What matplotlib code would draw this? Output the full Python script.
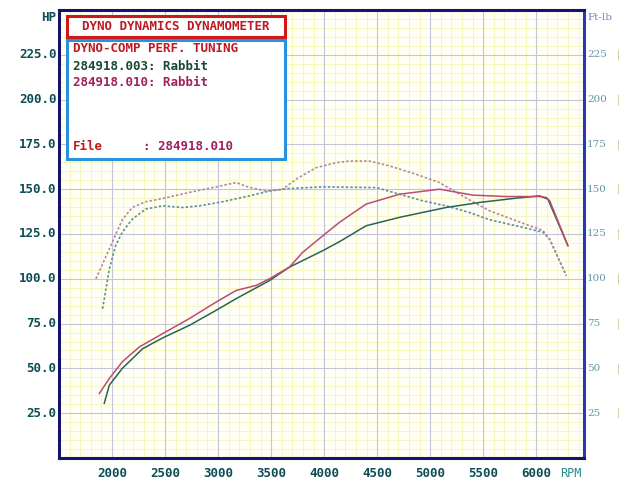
import numpy as np
import matplotlib.pyplot as plt
from matplotlib.patches import Rectangle

# run 284918.003 (green) and 284918.010 (magenta)
rpm_p003 = [1927, 1975, 2097, 2289, 2477, 2729, 2981, 3170, 3484, 3672, 3987, 4144,
            4396, 4711, 5151, 5465, 5780, 6031, 6110, 6298]
hp_003 = [30.6, 40.7, 50.0, 61.0, 67.0, 74.0, 82.4, 88.9, 99.0, 106.5, 115.7, 120.7,
          129.6, 134.3, 139.8, 142.6, 144.8, 146.3, 144.4, 118.5]

rpm_p010 = [1880, 1975, 2097, 2258, 2477, 2729, 2981, 3170, 3358, 3484, 3672, 3798,
            3987, 4144, 4396, 4711, 5088, 5402, 5717, 6031, 6094, 6127, 6298]
hp_010 = [36.0, 44.4, 53.7, 62.0, 69.4, 77.8, 87.0, 93.5, 96.3, 100.0, 106.5, 114.8,
          124.0, 131.5, 141.7, 147.2, 150.0, 146.7, 145.9, 145.9, 145.4, 143.5, 118.5]

rpm_t003 = [1911, 1975, 2034, 2097, 2191, 2317, 2477, 2666, 2823, 3043, 3295, 3484,
            3672, 3987, 4490, 4711, 4931, 5151, 5370, 5558, 5873, 6062, 6127, 6283]
tq_003 = [83.3, 105.6, 118.5, 126.0, 133.3, 138.9, 140.7, 139.8, 140.7, 143.0, 146.3, 149.0,
          150.4, 151.3, 150.9, 147.2, 143.5, 140.7, 137.0, 133.0, 128.7, 126.0, 122.0, 101.8]

rpm_t010 = [1848, 1975, 2097, 2191, 2317, 2477, 2729, 2981, 3170, 3295, 3453, 3610,
            3735, 3924, 4113, 4239, 4428, 4616, 4868, 5087, 5370, 5558, 5873, 6062,
            6127, 6283]
tq_010 = [100.0, 116.7, 133.0, 139.8, 143.0, 144.8, 148.2, 151.3, 153.7, 151.0, 149.0, 150.0,
          155.6, 162.0, 164.8, 165.7, 165.7, 163.0, 158.3, 153.7, 144.0, 138.0, 131.0, 127.0,
          122.0, 101.8]

x_ticks = [2000, 2500, 3000, 3500, 4000, 4500, 5000, 5500, 6000]
y_ticks = [25, 50, 75, 100, 125, 150, 175, 200, 225]

W, H = 643, 482
mono = 'DejaVu Sans Mono'
teal = '#0d4d55'

fig = plt.figure(figsize=(W / 100, H / 100), dpi=100)
fig.patch.set_facecolor('white')

def fx(px):
    return px / W

def fy(py):
    return 1 - py / H

ax = fig.add_axes([fx(59), fy(458), fx(584) - fx(59), fy(10) - fy(458)])
ax.set_facecolor('#fffff6')
ax.set_xlim(1500, 6450)
ax.set_ylim(0, 250)

# grid: pale yellow minor, grey-blue major
for x in np.arange(1600, 6450, 100):
    ax.axvline(x, color='#f6f6be', lw=0.7, zorder=0)
for y in np.arange(5, 250, 5):
    ax.axhline(y, color='#f6f6be', lw=0.7, zorder=0)
for x in x_ticks:
    ax.axvline(x, color='#c2c6d8', lw=0.8, zorder=1)
for y in y_ticks:
    ax.axhline(y, color='#c2c6d8', lw=0.8, zorder=1)

ax.plot(rpm_t003, tq_003, color='#5f9098', lw=1.2, ls=(0, (1.5, 1.2)), zorder=3)
ax.plot(rpm_t010, tq_010, color='#b088a8', lw=1.2, ls=(0, (1.5, 1.2)), zorder=3)
ax.plot(rpm_p003, hp_003, color='#2a6450', lw=1.1, zorder=4)
ax.plot(rpm_p010, hp_010, color='#bc4a7c', lw=1.1, zorder=4)

ax.set_xticks([])
ax.set_yticks([])
for side in ['left', 'top', 'bottom']:
    ax.spines[side].set_color('#14146a')
    ax.spines[side].set_linewidth(2.2)
ax.spines['right'].set_color('#2838b8')
ax.spines['right'].set_linewidth(2.2)

# axis labels drawn as text, like the dyno printout
for x in x_ticks:
    ax.text(x, -5, str(x), ha='center', va='top', fontsize=9, family=mono,
            fontweight='bold', color=teal, clip_on=False)
ax.text(6330, -5, 'RPM', ha='center', va='top', fontsize=8.5, family=mono,
        color='#2a8a8a', clip_on=False)

for y in y_ticks:
    ax.text(1475, y, '%.1f' % y, ha='right', va='center', fontsize=9, family=mono,
            fontweight='bold', color=teal, clip_on=False)
    ax.text(6480, y, str(y), ha='left', va='center', fontsize=7.5, family='DejaVu Serif',
            color='#3a7a8a', alpha=0.8, clip_on=False)
    ax.text(6760, y, '|', ha='left', va='center', fontsize=7, color='#c8c890',
            clip_on=False)
ax.text(1475, 246, 'HP', ha='right', va='center', fontsize=9, family=mono,
        fontweight='bold', color=teal, clip_on=False)
ax.text(6480, 246, 'Ft-lb', ha='left', va='center', fontsize=7.5, family='DejaVu Serif',
        color='#4a6aaa', alpha=0.8, clip_on=False)

# title box and legend box
fig.add_artist(Rectangle((fx(67), fy(37)), fx(285) - fx(67), fy(16) - fy(37),
                         transform=fig.transFigure, facecolor='white',
                         edgecolor='#d01818', lw=2.2, zorder=5))
fig.text(fx(176), fy(26.5), 'DYNO DYNAMICS DYNAMOMETER', ha='center', va='center',
         fontsize=9, family=mono, fontweight='bold', color='#c01820', zorder=6)

fig.add_artist(Rectangle((fx(67), fy(159)), fx(285) - fx(67), fy(40) - fy(159),
                         transform=fig.transFigure, facecolor='white',
                         edgecolor='#2a90e0', lw=2.2, zorder=5))
fig.text(fx(73), fy(49), 'DYNO-COMP PERF. TUNING', ha='left', va='center',
         fontsize=9, family=mono, fontweight='bold', color='#c01820', zorder=6)
fig.text(fx(73), fy(66), '284918.003: Rabbit', ha='left', va='center',
         fontsize=9, family=mono, fontweight='bold', color='#184838', zorder=6)
fig.text(fx(73), fy(82), '284918.010: Rabbit', ha='left', va='center',
         fontsize=9, family=mono, fontweight='bold', color='#a02060', zorder=6)
fig.text(fx(73), fy(147), 'File', ha='left', va='center',
         fontsize=9, family=mono, fontweight='bold', color='#c01820', zorder=6)
fig.text(fx(143), fy(147), ': 284918.010', ha='left', va='center',
         fontsize=9, family=mono, fontweight='bold', color='#a02060', zorder=6)

fig.savefig('out.png', dpi=100)
